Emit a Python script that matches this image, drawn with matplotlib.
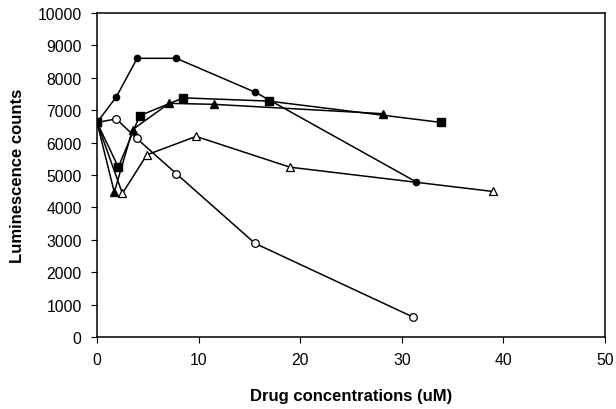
import matplotlib
matplotlib.use("Agg")
import matplotlib.pyplot as plt

plt.rcParams['font.family'] = ['Liberation Sans', 'DejaVu Sans']

# readings from the picture (drug conc in uM, luminescence counts)
x_circle = [0, 1.9, 3.95, 7.8, 15.6, 31.4]
y_circle = [6620, 7410, 8600, 8600, 7550, 4790]

x_square = [0, 2.1, 4.2, 8.5, 16.9, 33.9]
y_square = [6620, 5240, 6830, 7380, 7280, 6620]

x_tri = [0, 1.7, 3.5, 7.1, 11.5, 28.2]
y_tri = [6620, 4470, 6400, 7210, 7180, 6890]

x_open_tri = [0, 2.5, 4.9, 9.75, 19.0, 39.0]
y_open_tri = [6620, 4430, 5620, 6190, 5240, 4490]

x_open_circle = [0, 1.9, 3.9, 7.8, 15.55, 31.1]
y_open_circle = [6620, 6730, 6130, 5040, 2890, 617]

xticks = [0, 10, 20, 30, 40, 50]
yticks = list(range(0, 10001, 1000))

fig = plt.figure(figsize=(6.16, 4.10), dpi=100)
ax = fig.add_axes([0.1575, 0.1756, 0.8245, 0.7904])

lw = 1.1
ax.plot(x_open_circle, y_open_circle, color='black', lw=lw, marker='o', ms=5.5,
        mfc='white', mec='black', mew=0.9)
ax.plot(x_open_tri, y_open_tri, color='black', lw=lw, marker='^', ms=6,
        mfc='white', mec='black', mew=0.9)
ax.plot(x_circle, y_circle, color='black', lw=lw, marker='o', ms=4.5)
ax.plot(x_tri, y_tri, color='black', lw=lw, marker='^', ms=5.5)
ax.plot(x_square, y_square, color='black', lw=lw, marker='s', ms=5.5)

ax.set_xlim(0, 50)
ax.set_ylim(0, 10000)
ax.set_xticks(xticks)
ax.set_yticks(yticks)
ax.tick_params(direction='out', length=4, width=0.8, labelsize=11.3, pad=7)
ax.set_xlabel('Drug concentrations (uM)', fontsize=12, fontweight='bold', labelpad=15)
ax.set_ylabel('Luminescence counts', fontsize=12, fontweight='bold', labelpad=9)
for s in ax.spines.values():
    s.set_linewidth(1.1)

fig.savefig('out.png', dpi=100)
